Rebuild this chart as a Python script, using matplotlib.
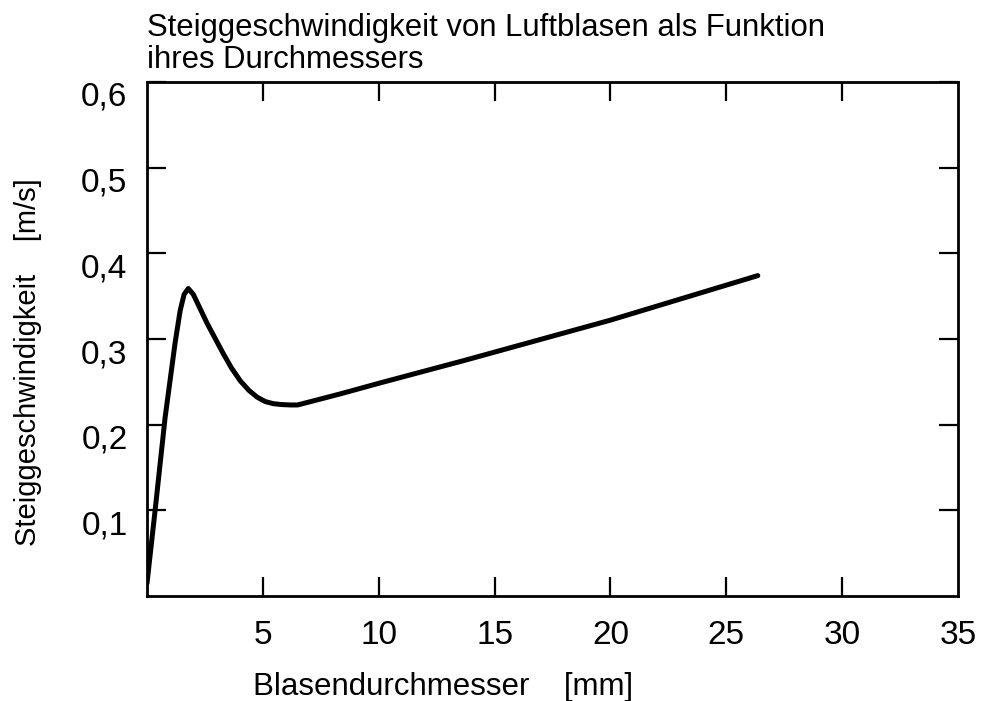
import matplotlib
matplotlib.use("Agg")
import matplotlib.pyplot as plt
from matplotlib.transforms import ScaledTranslation

plt.rcParams['font.family'] = ['Liberation Sans', 'DejaVu Sans']

# bubble diameter [mm] and rise velocity [m/s]
durchmesser = [0, 0.35, 0.78, 1.21, 1.43, 1.6, 1.78, 2.0, 2.6, 3.29, 3.65,
               4.03, 4.4, 4.76, 5.1, 5.45, 5.8, 6.19, 6.5, 6.93, 8.35, 10.1,
               13.7, 20, 26.36]
geschwindigkeit = [0.015, 0.1, 0.208, 0.295, 0.333, 0.352, 0.359, 0.352,
                   0.318, 0.283, 0.266, 0.251, 0.24, 0.232, 0.227, 0.2245,
                   0.2235, 0.223, 0.223, 0.226, 0.236, 0.249, 0.275, 0.322,
                   0.374]

x_ticks = [5, 10, 15, 20, 25, 30, 35]
y_ticks = [0.1, 0.2, 0.3, 0.4, 0.5, 0.6]
y_labels = ['0,1', '0,2', '0,3', '0,4', '0,5', '0,6']

fig = plt.figure(figsize=(9.82, 7.01), dpi=100)
ax = fig.add_axes([147/982, 1 - 596/701, 811/982, 514/701])

ax.plot(durchmesser, geschwindigkeit, color='black', lw=3.6,
        solid_joinstyle='round', solid_capstyle='round')

ax.set_xlim(0, 35)
ax.set_ylim(0, 0.6)
ax.set_xticks(x_ticks)
ax.set_xticklabels([str(t) for t in x_ticks])
ax.set_yticks(y_ticks)
ax.set_yticklabels(y_labels)

ax.tick_params(direction='in', length=14, width=1.6, top=True, right=True,
               labelsize=24)
ax.tick_params(axis='x', pad=17)
ax.tick_params(axis='y', pad=14)
for sp in ax.spines.values():
    sp.set_linewidth(2)

# y tick labels sit a little below their ticks
shift = ScaledTranslation(0, -12/100, fig.dpi_scale_trans)
for lab in ax.get_yticklabels():
    lab.set_transform(lab.get_transform() + shift)
# no tick marks at 35, it lies on the frame
ax.get_xticklines()[-2].set_visible(False)
ax.get_xticklines()[-1].set_visible(False)

fig.text(147/982, 1 - 13/701,
         'Steiggeschwindigkeit von Luftblasen als Funktion\nihres Durchmessers',
         ha='left', va='top', fontsize=22.4, linespacing=1.1)
fig.text(253/982, 1 - 695/701, 'Blasendurchmesser    [mm]',
         ha='left', va='baseline', fontsize=22.5)
fig.text(28/982, 1 - 362/701, 'Steiggeschwindigkeit    [m/s]',
         ha='center', va='center', rotation=90, fontsize=21)

plt.savefig('out.png', dpi=100)
plt.close()
